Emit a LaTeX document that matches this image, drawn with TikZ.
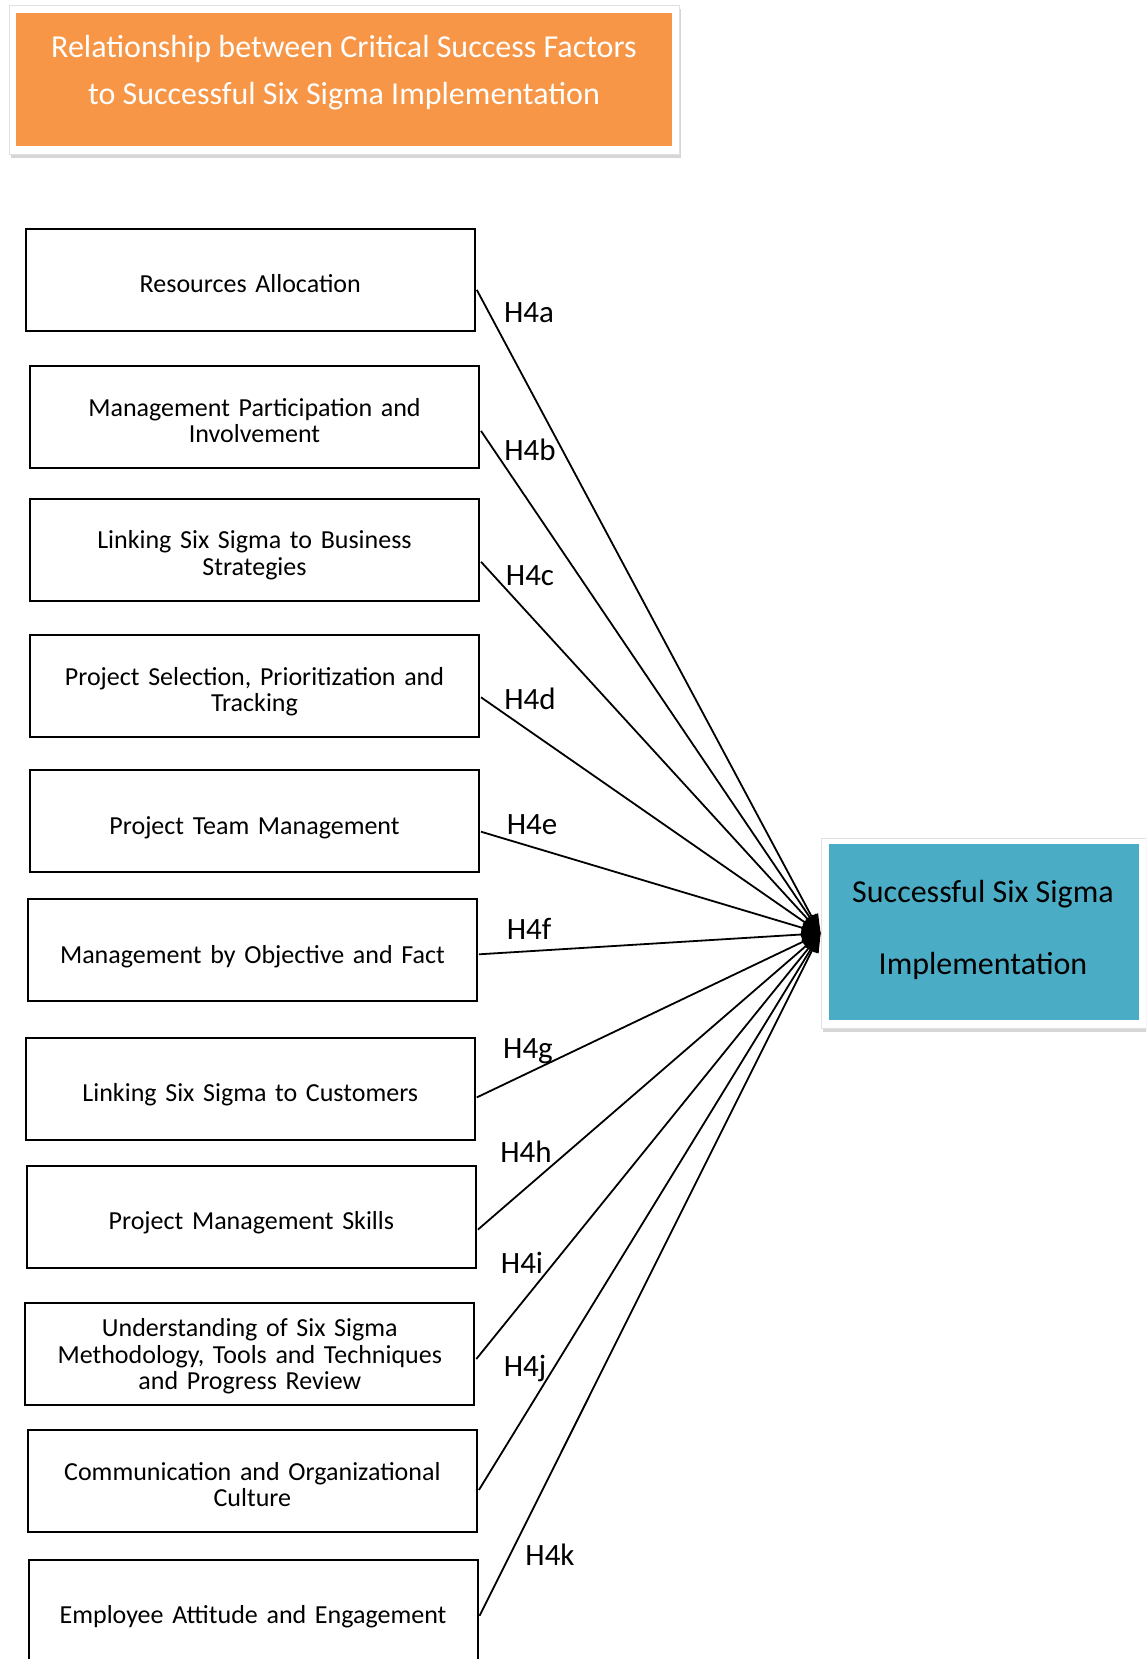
\documentclass[tikz,border=0pt]{standalone}
\usepackage{fontspec}
\setmainfont{Carlito}
\usetikzlibrary{arrows.meta,shadows,calc}
\definecolor{titleorange}{HTML}{F79646}
\definecolor{goalblue}{HTML}{4BACC6}

\begin{document}
\begin{tikzpicture}[x=1pt,y=-1pt,
  factor/.style={draw=black, line width=2pt, minimum width=449pt, minimum height=102pt,
    inner sep=0pt, align=center, text width=440pt, font=\fontsize{26}{26.5}\selectfont},
  oneline/.style={text height=26pt, text depth=0pt},
  link/.style={line width=1.8pt, -{Triangle[length=19pt,width=14pt]}},
  hyp/.style={font=\fontsize{31}{31}\selectfont, inner sep=0pt, anchor=base},
  frame/.style={fill=white, draw=black!12, line width=0.8pt, inner sep=0pt,
    drop shadow={shadow xshift=1.5pt, shadow yshift=-4pt, fill=black!35, opacity=0.45}},
]
\clip (0,0) rectangle (1146,1659);
\fill[white] (0,0) rectangle (1146,1659);

% title banner
\node (titleframe) [frame, minimum width=670pt, minimum height=149pt] at (344,79.5) {};
\node (titlebox) [fill=titleorange, inner sep=0pt, minimum width=656pt, minimum height=133pt] at (344,79.5) {};
\node (titletext) [text=white, align=center, inner sep=0pt,
  font=\fontsize{32}{47}\selectfont] at (344,73) {Relationship between Critical Success Factors\\to Successful Six Sigma Implementation};

% outcome box
\node (goal) [frame, minimum width=325pt, minimum height=190pt] at (983.5,933.3) {};
\node (goalbox) [fill=goalblue, inner sep=0pt, minimum width=310pt, minimum height=176pt] at (983.6,932.3) {};
\node (goaltext) [align=center, inner sep=0pt, font=\fontsize{32}{72}\selectfont] at (983,930) {Successful Six Sigma\\Implementation};

% critical success factors
\node (f1)  [factor, oneline] at (250.3,279.9)  {Resources Allocation};
\node (f2)  [factor] at (254.5,416.9)  {\rule{0pt}{25pt}Management Participation and\\Involvement};
\node (f3)  [factor] at (254.5,549.8)  {\rule{0pt}{29pt}Linking Six Sigma to Business\\Strategies};
\node (f4)  [factor] at (254.5,686.3)  {\rule{0pt}{29pt}Project Selection, Prioritization and\\Tracking};
\node (f5)  [factor, oneline] at (254.5,821.2)  {Project Team Management};
\node (f6)  [factor, oneline] at (252.4,950.3)  {Management by Objective and Fact};
\node (f7)  [factor, oneline] at (250.3,1088.9) {Linking Six Sigma to Customers};
\node (f8)  [factor, oneline] at (251.4,1216.9) {Project Management Skills};
\node (f9)  [factor] at (249.8,1354.0) {\rule{0pt}{23pt}Understanding of Six Sigma\\Methodology, Tools and Techniques\\and Progress Review};
\node (f10) [factor] at (252.4,1481.0) {\rule{0pt}{25pt}Communication and Organizational\\Culture};
\node (f11) [factor, oneline] at (253.0,1610.8) {Employee Attitude and Engagement};

% hypothesised relationships
\draw[link] ($(f1.east)+(1,10)$)    -- (goal.west);
\draw[link] ($(f2.east)+(1,14)$)    -- (goal.west);
\draw[link] ($(f3.east)+(1,12)$)    -- (goal.west);
\draw[link] ($(f4.east)+(1,11)$)    -- (goal.west);
\draw[link] ($(f5.east)+(1,10.5)$)  -- (goal.west);
\draw[link] ($(f6.east)+(1,4)$)     -- (goal.west);
\draw[link] ($(f7.east)+(1,8.5)$)   -- (goal.west);
\draw[link] ($(f8.east)+(1,12.7)$)  -- (goal.west);
\draw[link] ($(f9.east)+(1,5)$)     -- (goal.west);
\draw[link] ($(f10.east)+(1,9)$)    -- (goal.west);
\draw[link] ($(f11.east)+(1,5)$)    -- (goal.west);

% hypothesis labels
\node (ha) [hyp] at (529,322)    {H4a};
\node (hb) [hyp] at (530,460)    {H4b};
\node (hc) [hyp] at (530,585)    {H4c};
\node (hd) [hyp] at (530,709.5)  {H4d};
\node (he) [hyp] at (532,834)    {H4e};
\node (hf) [hyp] at (529,939)    {H4f};
\node (hg) [hyp] at (528,1058)   {H4g};
\node (hh) [hyp] at (526,1162)   {H4h};
\node (hi) [hyp] at (522,1273.5) {H4i};
\node (hj) [hyp] at (525,1376)   {H4j};
\node (hk) [hyp] at (550,1565.6) {H4k};
\end{tikzpicture}
\end{document}
